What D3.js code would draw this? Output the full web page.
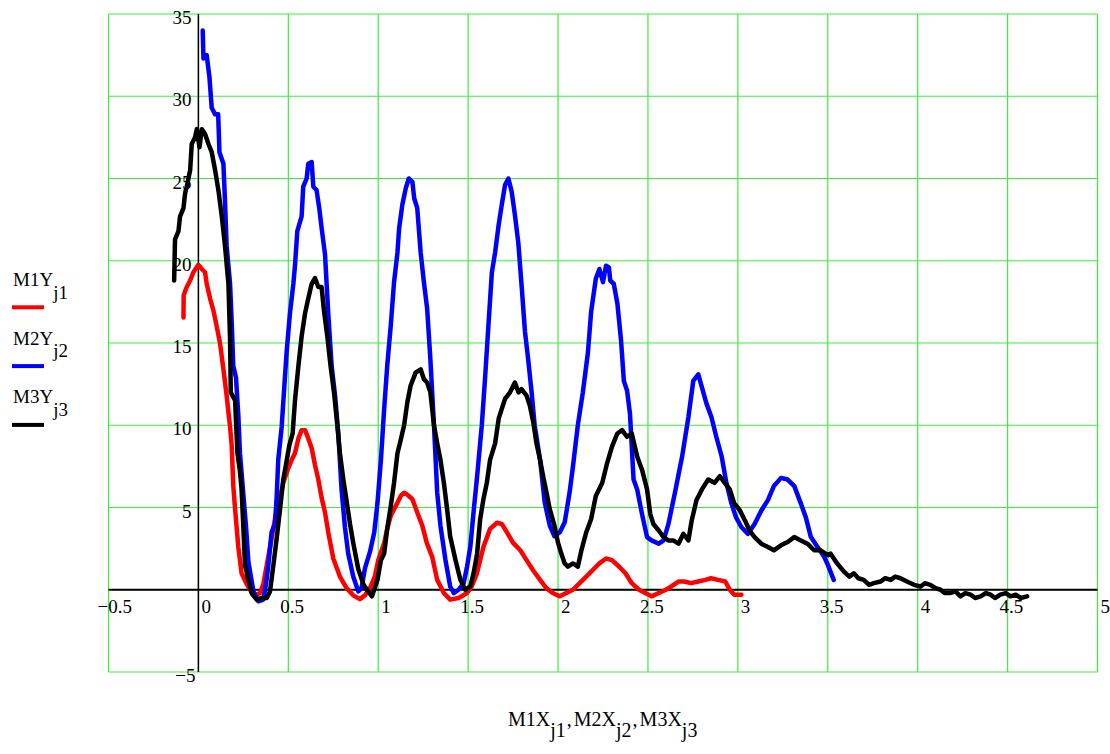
<!DOCTYPE html>
<html>
<head>
<meta charset="utf-8">
<script src="https://cdn.jsdelivr.net/npm/d3@7"></script>
<style>
  body { margin: 0; background: #fff; }
  text { font-family: "Liberation Serif", "Times New Roman", serif; fill: #000; }
</style>
</head>
<body>
<svg id="chart"></svg>
<script>
var width = 1110, height = 754;

// ticks
var xTicks = [-0.5, 0, 0.5, 1, 1.5, 2, 2.5, 3, 3.5, 4, 4.5, 5];
var yTicks = [-5, 0, 5, 10, 15, 20, 25, 30, 35];
var yTickLabels = ['−5', '', '5', '10', '15', '20', '25', '30', '35'];
var xTickLabels = ['−0.5', '0', '0.5', '1', '1.5', '2', '2.5', '3', '3.5', '4', '4.5', '5'];

// series names
var seriesNames = ['M1Y', 'M2Y', 'M3Y'];
var seriesSubs = ['j1', 'j2', 'j3'];
var seriesColors = ['#ff0000', '#0000ff', '#000000'];

// M1 (red)
var m1x = [-0.083,-0.082,-0.065,-0.046,-0.028,0,0.019,0.037,0.046,0.065,0.083,0.1,0.12,0.139,0.157,0.176,0.185,0.194,0.204,0.222,0.24,0.269,0.306,0.343,0.361,0.38,0.407,0.435,0.454,0.472,0.5,0.519,0.537,0.556,0.574,0.593,0.611,0.63,0.648,0.667,0.685,0.704,0.722,0.75,0.787,0.824,0.861,0.898,0.926,0.954,0.981,1.0,1.033,1.05,1.07,1.098,1.125,1.144,1.16,1.19,1.217,1.245,1.27,1.3,1.328,1.365,1.4,1.447,1.494,1.52,1.549,1.585,1.622,1.66,1.687,1.715,1.75,1.79,1.825,1.86,1.9,1.935,1.97,2.01,2.046,2.083,2.12,2.157,2.193,2.23,2.267,2.3,2.34,2.375,2.41,2.45,2.485,2.52,2.56,2.6,2.63,2.67,2.7,2.74,2.78,2.82,2.85,2.89,2.93,2.955,2.98,3.02];
var m1y = [16.55,17.9,18.4,18.8,19.3,19.75,19.5,19.3,18.6,17.7,17.0,16.1,15.0,13.4,11.8,9.9,8.8,6.3,4.9,2.6,1.0,0.34,-0.34,-0.2,0.34,1.5,3.1,4.9,5.6,6.5,7.4,7.9,8.3,9.2,9.7,9.7,9.2,8.6,7.6,6.7,5.6,4.7,3.5,1.9,0.8,0.1,-0.34,-0.57,-0.34,0.1,0.8,1.8,2.85,3.7,4.5,5.1,5.7,5.9,5.8,5.5,4.7,3.9,2.85,2.0,0.6,-0.2,-0.6,-0.5,-0.2,0.2,1.0,2.6,3.7,4.07,4.0,3.5,2.85,2.4,1.8,1.2,0.6,0.1,-0.2,-0.4,-0.2,0,0.4,0.8,1.2,1.6,1.9,1.8,1.4,1.0,0.4,0,-0.2,-0.4,-0.2,0,0.2,0.5,0.5,0.4,0.5,0.6,0.7,0.6,0.5,0,-0.3,-0.3];

// M2 (blue)
var m2x = [0.024,0.028,0.046,0.061,0.074,0.093,0.11,0.117,0.139,0.148,0.157,0.176,0.185,0.194,0.209,0.222,0.231,0.25,0.265,0.278,0.306,0.333,0.361,0.376,0.389,0.407,0.426,0.435,0.444,0.463,0.481,0.491,0.509,0.528,0.537,0.55,0.574,0.583,0.602,0.611,0.63,0.639,0.657,0.672,0.685,0.704,0.722,0.741,0.76,0.778,0.796,0.815,0.833,0.861,0.889,0.907,0.926,0.954,0.978,0.996,1.015,1.033,1.05,1.07,1.088,1.107,1.116,1.134,1.153,1.17,1.19,1.2,1.217,1.236,1.254,1.272,1.29,1.31,1.328,1.346,1.374,1.4,1.42,1.447,1.475,1.494,1.512,1.53,1.55,1.576,1.595,1.613,1.632,1.65,1.67,1.687,1.705,1.724,1.742,1.76,1.779,1.8,1.816,1.834,1.853,1.87,1.9,1.926,1.954,1.98,2.01,2.037,2.064,2.083,2.11,2.138,2.166,2.184,2.21,2.23,2.25,2.267,2.283,2.29,2.31,2.33,2.35,2.366,2.384,2.4,2.42,2.44,2.467,2.495,2.52,2.56,2.587,2.614,2.65,2.69,2.725,2.752,2.78,2.8,2.826,2.853,2.88,2.91,2.936,2.964,2.99,3.02,3.056,3.093,3.13,3.167,3.2,3.24,3.277,3.314,3.35,3.378,3.406,3.443,3.48,3.497,3.533];
var m2y = [34.0,32.3,32.5,31.2,29.3,28.9,28.9,26.6,25.9,23.6,20.9,18.6,16.3,13.6,12.9,10.6,8.3,5.8,3.8,1.7,-0.1,-0.7,-0.6,0.34,1.5,3.5,4.0,5.6,7.9,9.9,12.9,14.5,16.8,18.6,19.7,21.8,22.7,24.5,25.0,25.9,26.0,24.5,24.3,23.2,22.0,20.4,16.8,13.6,11.8,9.5,6.1,3.8,2.2,0.8,-0.1,0.1,1.3,2.3,3.5,5.3,7.9,11.0,13.6,16.1,18.7,20.5,21.95,23.4,24.4,25.0,24.8,23.8,23.2,20.5,18.7,17.1,14.0,10.0,5.9,3.9,1.8,0.2,-0.2,0,0.4,1.4,2.6,4.7,6.9,10.0,13.0,16.1,19.3,20.5,22.2,23.4,24.6,25.0,24.2,22.8,21.1,18.1,15.7,14.0,12.0,10.0,7.9,5.3,3.9,3.25,3.5,4.1,5.9,7.5,10.0,12.0,14.4,16.9,18.9,19.5,18.7,19.7,19.6,18.8,18.6,17.4,15.2,12.7,12.1,10.7,6.7,6.1,4.6,3.2,3.0,2.8,3.0,4.0,5.9,8.1,10.5,12.7,13.1,12.3,11.3,10.5,9.3,8.1,6.5,5.25,4.4,3.8,3.4,4.0,4.8,5.45,6.3,6.8,6.7,6.3,5.25,4.4,3.2,2.6,2.0,1.6,0.6];

// M3 (black)
var m3x = [-0.135,-0.13,-0.111,-0.102,-0.083,-0.074,-0.065,-0.046,-0.037,-0.019,-0.009,0.006,0.019,0.037,0.056,0.074,0.093,0.111,0.13,0.148,0.167,0.176,0.18,0.204,0.217,0.231,0.24,0.25,0.259,0.278,0.296,0.324,0.352,0.38,0.398,0.417,0.435,0.454,0.472,0.487,0.506,0.524,0.537,0.556,0.574,0.593,0.611,0.63,0.648,0.667,0.685,0.698,0.717,0.735,0.754,0.769,0.787,0.806,0.824,0.843,0.861,0.889,0.917,0.944,0.965,0.996,1.015,1.033,1.05,1.07,1.088,1.107,1.125,1.144,1.162,1.18,1.208,1.236,1.254,1.272,1.29,1.31,1.328,1.346,1.365,1.383,1.4,1.43,1.457,1.484,1.512,1.53,1.55,1.567,1.585,1.604,1.622,1.65,1.67,1.687,1.705,1.733,1.76,1.78,1.797,1.825,1.843,1.862,1.88,1.9,1.917,1.936,1.954,1.98,2.0,2.018,2.037,2.055,2.083,2.11,2.13,2.157,2.184,2.21,2.246,2.273,2.3,2.33,2.356,2.384,2.41,2.44,2.467,2.495,2.513,2.53,2.56,2.587,2.614,2.64,2.67,2.697,2.725,2.743,2.77,2.8,2.835,2.87,2.9,2.927,2.955,2.98,3.01,3.04,3.065,3.093,3.13,3.167,3.2,3.24,3.277,3.314,3.35,3.387,3.424,3.46,3.5,3.515,3.552,3.59,3.62,3.645,3.67,3.7,3.73,3.756,3.793,3.82,3.85,3.875,3.904,3.94,3.98,4.016,4.04,4.07,4.1,4.127,4.15,4.18,4.21,4.238,4.265,4.294,4.32,4.35,4.38,4.405,4.43,4.46,4.49,4.516,4.545,4.572,4.609];
var m3y = [18.8,21.3,21.8,22.7,23.2,24.1,24.5,25.5,27.1,27.5,28.0,26.9,28.0,27.7,27.1,26.6,25.5,24.3,22.7,20.9,18.6,15.2,12.0,11.5,8.3,7.2,6.1,3.8,1.5,0.6,-0.2,-0.6,-0.5,-0.5,-0.1,1.5,3.1,4.9,6.7,7.6,8.8,9.5,11.5,13.6,15.4,16.8,17.7,18.6,18.95,18.4,18.4,17.0,15.4,13.6,12.0,10.4,8.3,6.7,5.4,4.0,2.85,1.26,0.34,-0.1,-0.4,0.6,1.8,2.2,3.7,5.1,6.5,8.3,9.1,10.0,11.4,12.4,13.2,13.4,12.8,12.6,12.0,10.0,8.9,7.9,6.5,4.9,3.25,1.8,0.6,0,0.2,1.0,2.2,4.3,5.5,6.5,7.9,8.9,10.4,11.0,11.6,12.0,12.6,12.0,12.2,11.8,11.2,10.2,8.9,7.9,6.9,5.9,4.9,3.9,2.85,2.2,1.6,1.4,1.6,1.4,2.4,3.5,4.3,5.7,6.5,7.7,8.7,9.5,9.7,9.3,9.5,8.1,7.3,6.1,4.6,4.0,3.6,3.2,3.0,3.0,2.8,3.4,3.0,4.2,5.45,6.1,6.7,6.5,6.9,6.5,6.1,5.25,4.85,4.2,3.6,3.2,2.8,2.6,2.4,2.7,2.9,3.2,3.0,2.8,2.4,2.4,2.1,2.2,1.6,1.1,0.8,1.0,0.7,0.6,0.3,0.4,0.5,0.7,0.6,0.8,0.7,0.5,0.3,0.2,0.4,0.3,0.1,0,-0.2,-0.2,-0.1,-0.4,-0.2,-0.3,-0.5,-0.4,-0.2,-0.3,-0.5,-0.3,-0.2,-0.4,-0.3,-0.5,-0.4];

var seriesX = [m1x, m2x, m3x];
var seriesY = [m1y, m2y, m3y];

var svg = d3.select('#chart')
    .attr('width', width)
    .attr('height', height);

svg.append('rect').attr('width', width).attr('height', height).attr('fill', '#fff');

var x = d3.scaleLinear().domain([-0.5, 5]).range([108.5, 1097.5]);
var y = d3.scaleLinear().domain([-5, 35]).range([672, 14]);

var grid = svg.append('g');
var gridColor = '#3cef3c';

// vertical grid
grid.selectAll('line.vx')
    .data(xTicks)
    .join('line')
    .attr('x1', d => x(d)).attr('x2', d => x(d))
    .attr('y1', y(-5)).attr('y2', y(35))
    .attr('stroke', gridColor)
    .attr('stroke-width', 1.2);

// horizontal grid
grid.selectAll('line.hy')
    .data(yTicks)
    .join('line')
    .attr('class', 'hy')
    .attr('x1', x(-0.5)).attr('x2', x(5))
    .attr('y1', d => y(d)).attr('y2', d => y(d))
    .attr('stroke', gridColor)
    .attr('stroke-width', 1.2);

// axes through zero
svg.append('line')
    .attr('x1', x(-0.5)).attr('x2', x(5))
    .attr('y1', y(0)).attr('y2', y(0))
    .attr('stroke', '#000').attr('stroke-width', 2);
svg.append('line')
    .attr('x1', x(0)).attr('x2', x(0))
    .attr('y1', y(-5)).attr('y2', y(35))
    .attr('stroke', '#000').attr('stroke-width', 1.5);

// tick labels
svg.append('g').selectAll('text')
    .data(xTicks)
    .join('text')
    .attr('x', (d, i) => {
        var t = xTickLabels[i];
        var off = t.indexOf('−') >= 0 ? -11 : (t.indexOf('.') >= 0 ? -8 : 3);
        return x(d) + off;
    })
    .attr('y', y(0) + 23)
    .attr('font-size', 19)
    .text((d, i) => xTickLabels[i]);

svg.append('g').selectAll('text')
    .data(yTicks)
    .join('text')
    .attr('x', (d, i) => x(0) - (d < 0 ? 3 : 7))
    .attr('y', d => y(d) + 10)
    .attr('text-anchor', 'end')
    .attr('font-size', 19)
    .text((d, i) => yTickLabels[i]);

// legend
var legend = svg.append('g');
seriesNames.forEach(function (name, i) {
    var t = legend.append('text')
        .attr('x', 13)
        .attr('y', 286 + i * 58.7)
        .attr('font-size', 19);
    t.append('tspan').text(name);
    t.append('tspan').attr('dy', 12.5).text(seriesSubs[i]);
    legend.append('line')
        .attr('x1', 12).attr('x2', 44)
        .attr('y1', 307.3 + i * 58.8).attr('y2', 307.3 + i * 58.8)
        .attr('stroke', seriesColors[i])
        .attr('stroke-width', 4);
});

// x axis title
var title = svg.append('text')
    .attr('x', 508)
    .attr('y', 726)
    .attr('font-size', 20);
['M1X', 'M2X', 'M3X'].forEach(function (name, i) {
    if (i > 0) {
        title.append('tspan').attr('dy', -11).attr('dx', 1).text(',');
        title.append('tspan').attr('dx', 2).text(name);
    } else {
        title.append('tspan').text(name);
    }
    title.append('tspan').attr('dy', 11).text(seriesSubs[i]);
});

// curves
var line = d3.line()
    .x(d => x(d[0]))
    .y(d => y(d[1]));

svg.append('g').selectAll('path')
    .data(seriesX.map((xs, i) => d3.zip(xs, seriesY[i])))
    .join('path')
    .attr('d', line)
    .attr('fill', 'none')
    .attr('stroke', (d, i) => seriesColors[i])
    .attr('stroke-width', 4.5)
    .attr('stroke-linejoin', 'round')
    .attr('stroke-linecap', 'round');
</script>
</body>
</html>
